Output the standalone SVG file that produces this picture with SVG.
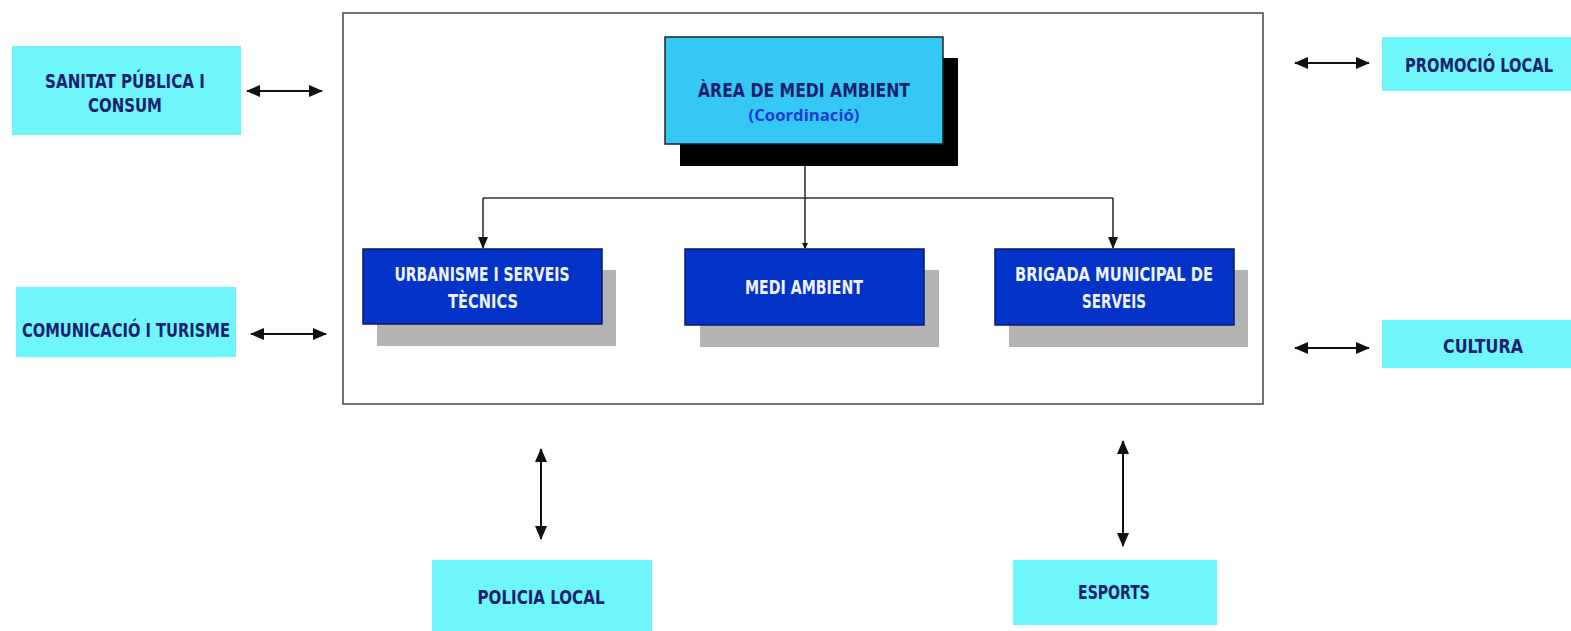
<svg xmlns="http://www.w3.org/2000/svg" width="1571" height="631" viewBox="0 0 1571 631">
<style>
.ext{fill:#6ff6fb}
.sub{fill:#0433c8;stroke:#0a1a6a;stroke-width:1.5}
.shd{fill:#b3b3b3}
.t{font-family:"DejaVu Sans Condensed","DejaVu Sans",sans-serif;font-weight:bold;font-size:19px}
.dk{fill:#1a1f6e}
.wt{fill:#f0f4ff}
.ln{stroke:#111;stroke-width:2;fill:none}
.tree{stroke:#333;stroke-width:1.6;fill:none}
</style>
<defs>
<marker id="ah" viewBox="0 0 14 12" refX="13" refY="6" markerWidth="14" markerHeight="12" markerUnits="userSpaceOnUse" orient="auto-start-reverse">
<path d="M0,0 L14,6 L0,12 Z" fill="#111"/>
</marker>
<marker id="ah2" viewBox="0 0 12 10" refX="11" refY="5" markerWidth="12" markerHeight="10" markerUnits="userSpaceOnUse" orient="auto">
<path d="M0,0 L12,5 L0,10 Z" fill="#111"/>
</marker>
<marker id="ah3" viewBox="0 0 6 6" refX="5" refY="3" markerWidth="6" markerHeight="6" markerUnits="userSpaceOnUse" orient="auto">
<path d="M0,0 L6,3 L0,6 Z" fill="#111"/>
</marker>
</defs>
<rect width="1571" height="631" fill="#fff"/>
<rect id="frame" x="343" y="13" width="920" height="391" fill="#fff" stroke="#444" stroke-width="1.5"/>

<g id="connectors">
<line class="tree" x1="805" y1="166" x2="805" y2="248" marker-end="url(#ah3)"/>
<polyline class="tree" points="483,198 1113,198"/>
<line class="tree" x1="483" y1="198" x2="483" y2="248" marker-end="url(#ah2)"/>
<line class="tree" x1="1113" y1="198" x2="1113" y2="248" marker-end="url(#ah2)"/>
<line class="ln" x1="247" y1="91" x2="322" y2="91" marker-start="url(#ah)" marker-end="url(#ah)"/>
<line class="ln" x1="251" y1="334" x2="326" y2="334" marker-start="url(#ah)" marker-end="url(#ah)"/>
<line class="ln" x1="1295" y1="63" x2="1369" y2="63" marker-start="url(#ah)" marker-end="url(#ah)"/>
<line class="ln" x1="1295" y1="348" x2="1369" y2="348" marker-start="url(#ah)" marker-end="url(#ah)"/>
<line class="ln" x1="541" y1="449" x2="541" y2="539" marker-start="url(#ah)" marker-end="url(#ah)"/>
<line class="ln" x1="1123" y1="441" x2="1123" y2="546" marker-start="url(#ah)" marker-end="url(#ah)"/>
</g>

<g id="area">
<rect x="680" y="58" width="278" height="108" fill="#000"/>
<rect x="665" y="37" width="278" height="107" fill="#36c8f4" stroke="#222" stroke-width="1.5"/>
<text class="t dk" x="804" y="97" text-anchor="middle" font-size="22" textLength="212" lengthAdjust="spacingAndGlyphs">ÀREA DE MEDI AMBIENT</text>
<text x="804" y="121" text-anchor="middle" font-family="'Open Sans','DejaVu Sans',sans-serif" font-weight="bold" font-size="16" fill="#1b3ad8" textLength="111" lengthAdjust="spacingAndGlyphs">(Coordinació)</text>
</g>

<g id="urbanisme">
<rect class="shd" x="377" y="270" width="239" height="76"/>
<rect class="sub" x="363" y="249" width="239" height="75"/>
<text class="t wt" x="482" y="281" text-anchor="middle" textLength="175" lengthAdjust="spacingAndGlyphs">URBANISME I SERVEIS</text>
<text class="t wt" x="483" y="308" text-anchor="middle" textLength="70" lengthAdjust="spacingAndGlyphs">TÈCNICS</text>
</g>

<g id="medi">
<rect class="shd" x="700" y="270" width="239" height="77"/>
<rect class="sub" x="685" y="249" width="239" height="76"/>
<text class="t wt" x="804" y="294" text-anchor="middle" textLength="118" lengthAdjust="spacingAndGlyphs">MEDI AMBIENT</text>
</g>

<g id="brigada">
<rect class="shd" x="1009" y="270" width="239" height="77"/>
<rect class="sub" x="995" y="249" width="239" height="76"/>
<text class="t wt" x="1114" y="281" text-anchor="middle" textLength="198" lengthAdjust="spacingAndGlyphs">BRIGADA MUNICIPAL DE</text>
<text class="t wt" x="1114" y="308" text-anchor="middle" textLength="64" lengthAdjust="spacingAndGlyphs">SERVEIS</text>
</g>

<g id="sanitat">
<rect class="ext" x="12" y="46" width="229" height="89"/>
<text class="t dk" x="125" y="88" text-anchor="middle" textLength="160" lengthAdjust="spacingAndGlyphs">SANITAT PÚBLICA I</text>
<text class="t dk" x="125" y="112" text-anchor="middle" textLength="74" lengthAdjust="spacingAndGlyphs">CONSUM</text>
</g>

<g id="comunicacio">
<rect class="ext" x="16" y="287" width="220" height="70"/>
<text class="t dk" x="126" y="337" text-anchor="middle" textLength="208" lengthAdjust="spacingAndGlyphs">COMUNICACIÓ I TURISME</text>
</g>

<g id="promocio">
<rect class="ext" x="1382" y="37" width="189" height="54"/>
<text class="t dk" x="1479" y="72" text-anchor="middle" font-size="17" textLength="148" lengthAdjust="spacingAndGlyphs">PROMOCIÓ LOCAL</text>
</g>

<g id="cultura">
<rect class="ext" x="1382" y="320" width="189" height="48"/>
<text class="t dk" x="1483" y="353" text-anchor="middle" textLength="80" lengthAdjust="spacingAndGlyphs">CULTURA</text>
</g>

<g id="policia">
<rect class="ext" x="432" y="560" width="220" height="71"/>
<text class="t dk" x="541" y="604" text-anchor="middle" textLength="127" lengthAdjust="spacingAndGlyphs">POLICIA LOCAL</text>
</g>

<g id="esports">
<rect class="ext" x="1013" y="560" width="204" height="65"/>
<text class="t dk" x="1114" y="599" text-anchor="middle" textLength="72" lengthAdjust="spacingAndGlyphs">ESPORTS</text>
</g>
</svg>
